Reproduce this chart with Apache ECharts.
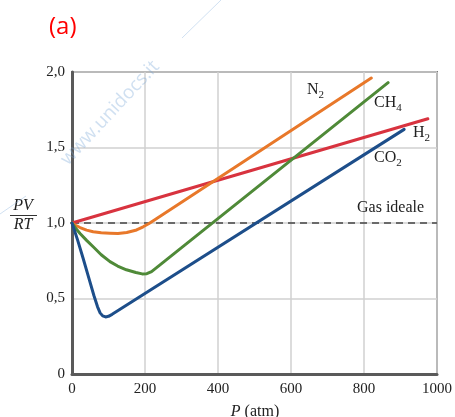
<!DOCTYPE html>
<html>
<head>
<meta charset="utf-8">
<script src="https://cdn.jsdelivr.net/npm/echarts@6/dist/echarts.min.js"></script>
<style>
    html, body { margin: 0; padding: 0; background: #fff; }
    #chart { width: 455px; height: 417px; }
</style>
</head>
<body>
<div id="chart"></div>
<script>
// pressure (atm) and PV/RT values
var h2P = [0, 975];
var h2Z = [1.0, 1.69];

var n2P = [0, 10, 22, 40, 58, 80, 104, 126, 150, 177, 195, 210, 228, 820];
var n2Z = [1.0, 0.985, 0.97, 0.953, 0.942, 0.935, 0.932, 0.93, 0.937, 0.954, 0.975, 0.995, 1.023, 1.96];

var ch4P = [0, 10, 22, 40, 58, 80, 104, 125, 149, 175, 192, 205, 218, 866];
var ch4Z = [1.0, 0.965, 0.93, 0.885, 0.843, 0.79, 0.744, 0.715, 0.69, 0.672, 0.663, 0.664, 0.678, 1.93];

var co2P = [0, 15, 30, 45, 60, 70, 77, 84, 92, 100, 110, 910];
var co2Z = [1.0, 0.89, 0.77, 0.645, 0.52, 0.445, 0.405, 0.385, 0.378, 0.382, 0.395, 1.62];

var idealP = [0, 1000];
var idealZ = [1.0, 1.0];

var xTicks = [0, 200, 400, 600, 800, 1000];
var yTicks = [0, 0.5, 1.0, 1.5, 2.0];

var serif = "Liberation Serif";

var pairs = function (xs, ys) {
    var out = [];
    for (var i = 0; i < xs.length; i++) {
        out.push([xs[i], ys[i]]);
    }
    return out;
};

var myChart = echarts.init(document.getElementById('chart'));

var gasLine = function (name, xs, ys, color) {
    return {
        name: name,
        type: 'line',
        data: pairs(xs, ys),
        smooth: false,
        showSymbol: false,
        lineStyle: { color: color, width: 3, cap: 'round', join: 'round' },
        z: 3
    };
};

var subLabel = function (main, sub, x, y) {
    return {
        type: 'text',
        left: x,
        top: y,
        style: {
            text: '{m|' + main + '}{s|' + sub + '}',
            rich: {
                m: { fontFamily: serif, fontSize: 16, fill: '#222' },
                s: { fontFamily: serif, fontSize: 11, fill: '#222', padding: [10, 0, 0, 0] }
            }
        },
        z: 10
    };
};

var option = {
    animation: false,
    grid: {
        left: 72,
        top: 72,
        right: 17,
        bottom: 43,
        show: true,
        borderColor: '#7a7a7a',
        borderWidth: 2
    },
    xAxis: {
        type: 'value',
        min: xTicks[0],
        max: xTicks[xTicks.length - 1],
        interval: 200,
        axisLine: { show: true, onZero: false, lineStyle: { color: '#5a5a5a', width: 3 } },
        axisTick: { show: false },
        splitLine: { show: true, lineStyle: { color: '#d0d0d0', width: 1.5 } },
        axisLabel: {
            margin: 8,
            fontFamily: serif,
            fontSize: 15,
            color: '#222',
            formatter: function (v) {
                return String(v);
            }
        }
    },
    yAxis: {
        type: 'value',
        min: yTicks[0],
        max: yTicks[yTicks.length - 1],
        interval: 0.5,
        axisLine: { show: true, onZero: false, lineStyle: { color: '#5a5a5a', width: 3 } },
        axisTick: { show: false },
        splitLine: { show: true, lineStyle: { color: '#d0d0d0', width: 1.5 } },
        axisLabel: {
            margin: 7,
            fontFamily: serif,
            fontSize: 15,
            color: '#222',
            formatter: function (v) {
                return v === 0 ? '0' : v.toFixed(1).replace('.', ',');
            }
        }
    },
    series: [
        {
            name: 'Gas ideale',
            type: 'line',
            data: pairs(idealP, idealZ),
            showSymbol: false,
            lineStyle: { color: '#444', width: 1.3, type: [7, 5] },
            z: 2
        },
        gasLine('H2', h2P, h2Z, '#d8333f'),
        gasLine('N2', n2P, n2Z, '#e8782a'),
        gasLine('CH4', ch4P, ch4Z, '#4f8a38'),
        gasLine('CO2', co2P, co2Z, '#1d4e8a')
    ],
    graphic: [
        // watermark
        {
            type: 'text',
            x: 110, y: 113,
            rotation: 47 * Math.PI / 180,
            style: {
                text: 'www.unidocs.it',
                fontFamily: 'Open Sans',
                fontSize: 19,
                fill: 'rgba(120,165,215,0.35)',
                align: 'center',
                verticalAlign: 'middle'
            },
            z: 1
        },
        {
            type: 'line',
            shape: { x1: 182, y1: 38, x2: 221, y2: 0 },
            style: { stroke: 'rgba(120,165,215,0.35)', lineWidth: 1 },
            z: 1
        },
        {
            type: 'line',
            shape: { x1: 0, y1: 214, x2: 26, y2: 196 },
            style: { stroke: 'rgba(120,165,215,0.35)', lineWidth: 1 },
            z: 1
        },
        // (a)
        {
            type: 'text',
            left: 49, top: 15,
            style: { text: '(a)', fontFamily: 'Open Sans', fontSize: 24, fill: '#ff0000' }
        },
        // y title PV/RT
        {
            type: 'text',
            x: 23, y: 206,
            style: { text: 'PV', fontFamily: serif, fontStyle: 'italic', fontSize: 16, fill: '#222', align: 'center', verticalAlign: 'middle' }
        },
        {
            type: 'line',
            shape: { x1: 10, y1: 215.5, x2: 37, y2: 215.5 },
            style: { stroke: '#333', lineWidth: 1 }
        },
        {
            type: 'text',
            x: 23, y: 225,
            style: { text: 'RT', fontFamily: serif, fontStyle: 'italic', fontSize: 16, fill: '#222', align: 'center', verticalAlign: 'middle' }
        },
        // x title
        {
            type: 'text',
            x: 255, y: 404,
            style: {
                text: '{i|P} (atm)',
                fontFamily: serif,
                fontSize: 16,
                fill: '#222',
                align: 'center',
                rich: { i: { fontFamily: serif, fontStyle: 'italic', fontSize: 16, fill: '#222' } }
            }
        },
        // curve labels
        subLabel('N', '2', 307, 82),
        subLabel('CH', '4', 374, 95),
        subLabel('H', '2', 413, 125),
        subLabel('CO', '2', 374, 150),
        {
            type: 'text',
            left: 357, top: 200,
            style: { text: 'Gas ideale', fontFamily: serif, fontSize: 16, fill: '#222' },
            z: 10
        }
    ]
};

myChart.setOption(option);
window.onresize = myChart.resize;
</script>
</body>
</html>
